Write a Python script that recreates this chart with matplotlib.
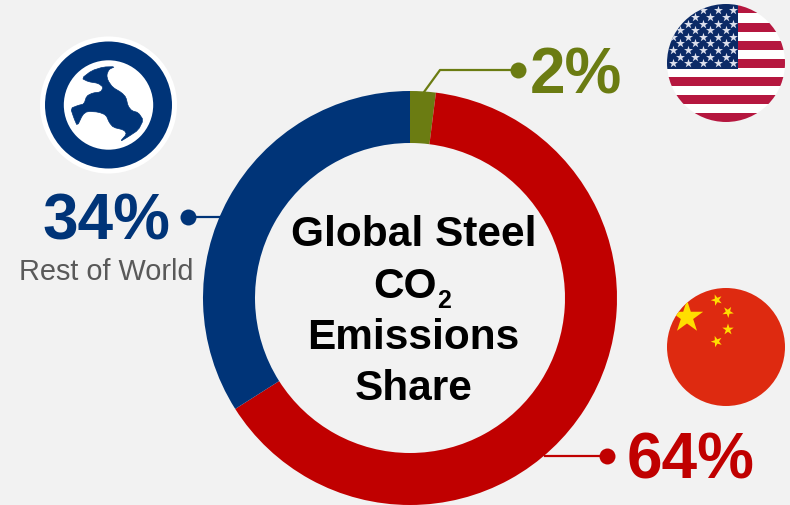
import math
import matplotlib
matplotlib.use('Agg')
import matplotlib.pyplot as plt
from matplotlib.patches import Circle, Polygon, Rectangle

plt.rcParams['font.family'] = ['Liberation Sans', 'DejaVu Sans']

shares = [2, 64, 34]
share_labels = ['2%', '64%', '34%']
region_label = 'Rest of World'
title_lines = ['Global Steel', 'CO', 'Emissions', 'Share']

BG = '#F2F2F2'
OLIVE = '#6B7C12'
RED = '#C00000'
BLUE = '#003478'
GREY = '#595959'
H = 505


def Y(y):
    # everything below is laid out in pixels from the top left
    return H - y


def star_points(cx, cy, r, rot=0):
    pts = []
    for i in range(10):
        rad = r if i % 2 == 0 else r * 0.382
        a = math.radians(90 + rot + i * 36)
        pts.append((cx + rad * math.cos(a), Y(cy) + rad * math.sin(a)))
    return pts


def smooth(pts):
    # one round of corner cutting so the coastline is not so angular
    out = []
    for i in range(len(pts)):
        x0, y0 = pts[i]
        x1, y1 = pts[(i + 1) % len(pts)]
        out.append((0.8 * x0 + 0.2 * x1, 0.8 * y0 + 0.2 * y1))
        out.append((0.2 * x0 + 0.8 * x1, 0.2 * y0 + 0.8 * y1))
    return out


fig = plt.figure(figsize=(7.9, 5.05), dpi=100, facecolor=BG)
ax = fig.add_axes([0, 0, 1, 1], facecolor=BG)

# donut
ax.pie(shares, colors=[OLIVE, RED, BLUE], startangle=90, counterclock=False,
       center=(410, Y(298)), radius=207, wedgeprops=dict(width=52), frame=True)
ax.set_xlim(0, 790)
ax.set_ylim(0, H)
ax.set_aspect('equal')
ax.set_axis_off()

# leader lines with end dots
ax.plot([424, 440, 518], [Y(92), Y(70), Y(70)], color=OLIVE, lw=1.6, zorder=1)
ax.plot([518], [Y(70)], 'o', color=OLIVE, ms=11.5, mew=0)
ax.plot([545, 607], [Y(456), Y(456)], color=RED, lw=1.6, zorder=1)
ax.plot([607], [Y(456)], 'o', color=RED, ms=11.5, mew=0)
ax.plot([188, 222], [Y(217), Y(217)], color=BLUE, lw=1.6, zorder=1)
ax.plot([188], [Y(217)], 'o', color=BLUE, ms=11.5, mew=0)

# percentages
ax.text(576, Y(93.5), share_labels[0], color=OLIVE, fontsize=46, fontweight='bold',
        ha='center', va='baseline')
ax.text(691, Y(478.5), share_labels[1], color=RED, fontsize=46, fontweight='bold',
        ha='center', va='baseline')
ax.text(106, Y(239.5), share_labels[2], color=BLUE, fontsize=46, fontweight='bold',
        ha='center', va='baseline')
ax.text(106, Y(279.5), region_label, color=GREY, fontsize=20.8, ha='center', va='baseline')

# centre title
ax.text(413.5, Y(246.5), title_lines[0], fontsize=30.5, fontweight='bold', ha='center',
        va='baseline', color='black')
ax.text(373.5, Y(298), title_lines[1], fontsize=30.5, fontweight='bold', ha='left',
        va='baseline', color='black')
ax.text(437, Y(308.5), '2', fontsize=18, fontweight='bold', ha='left',
        va='baseline', color='black')
ax.text(413.5, Y(349), title_lines[2], fontsize=30.5, fontweight='bold', ha='center',
        va='baseline', color='black')
ax.text(413.5, Y(400.5), title_lines[3], fontsize=30.5, fontweight='bold', ha='center',
        va='baseline', color='black')

# globe badge
ax.add_patch(Circle((108.5, Y(105)), 68.5, fc='white', ec='none'))
ax.add_patch(Circle((108.5, Y(105)), 63.5, fc=BLUE, ec='none'))
ax.add_patch(Circle((108.5, Y(105)), 44.7, fc='white', ec='none'))
land = [(345, 140), (327, 148), (320, 165), (324, 182), (338, 202), (365, 218), (378, 232),
        (384, 258), (395, 272), (415, 278), (430, 300), (415, 330), (385, 350), (360, 365),
        (380, 342), (372, 330), (340, 322), (328, 308), (318, 285), (295, 276), (262, 274),
        (248, 284), (232, 318), (222, 295), (212, 265), (235, 256), (252, 252), (260, 228),
        (278, 219), (302, 216), (310, 202), (295, 190), (265, 185), (245, 175), (275, 152),
        (310, 141)]
land_xy = [(x / 3, Y(20 + y / 3)) for x, y in land]
ax.add_patch(Polygon(smooth(land_xy), closed=True, fc=BLUE, ec=BLUE, lw=0.5, joinstyle='round'))

# US flag
us_disc = Circle((726, Y(63)), 59, fc='white', ec='none')
ax.add_patch(us_disc)
for i in range(13):
    if i % 2 == 0:
        top = 4.3 + i * 9.1
        left = 660 if i >= 7 else 737.7
        r = Rectangle((left, Y(top + 9.1)), 800 - left, 9.1, fc='#B5173F', ec='none')
        ax.add_patch(r)
        r.set_clip_path(us_disc)
canton = Rectangle((660, Y(69)), 77.7, 69, fc='#0B2A66', ec='none')
ax.add_patch(canton)
canton.set_clip_path(us_disc)
long_row = [672.5, 687.7, 702.7, 717.7, 733.3]
short_row = [680, 695, 710, 725.7]
for j, y in enumerate([10, 16.7, 24, 30, 36.7, 43.3, 50, 56.7, 63.3]):
    xs = long_row if j % 2 == 0 else short_row
    st = ax.scatter(xs, [Y(y)] * len(xs), marker='*', s=46, c='#DDE0EC', linewidths=0, zorder=3)
    st.set_clip_path(us_disc)

# China flag
cn_disc = Circle((726, Y(347)), 59, fc='#DE2A10', ec='none')
ax.add_patch(cn_disc)
big = Polygon(star_points(687, 317, 17), closed=True, fc='#FFDE00', ec='none', zorder=3)
ax.add_patch(big)
big.set_clip_path(cn_disc)
for cx, cy, rot in [(716.7, 300, 20), (728, 312, 40), (728, 329.5, 0), (716.7, 341.5, 20)]:
    ax.add_patch(Polygon(star_points(cx, cy, 6, rot=rot), closed=True, fc='#FFDE00', ec='none',
                         zorder=3))

fig.savefig('out.png', dpi=100, facecolor=BG)
